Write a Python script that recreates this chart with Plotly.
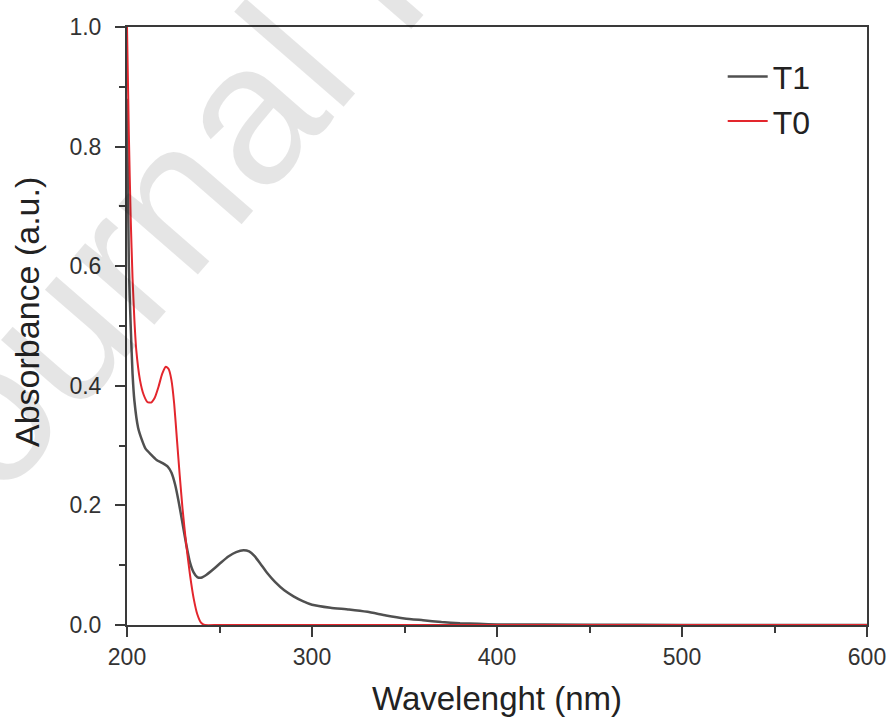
import plotly.graph_objects as go

# ---- data ----
t1_wl = [200, 201, 202, 203, 204, 206, 208, 210, 213, 216, 219, 222, 224, 226, 228, 230,
         232, 234, 236, 238, 240, 243, 247, 251, 255, 259, 263, 266, 269, 272, 276, 280,
         285, 290, 295, 300, 310, 320, 330, 340, 350, 360, 370, 380, 390, 400, 450, 500, 600]
t1_abs = [0.88, 0.60, 0.50, 0.42, 0.375, 0.33, 0.31, 0.295, 0.285, 0.276, 0.271, 0.265, 0.255,
          0.235, 0.205, 0.17, 0.135, 0.105, 0.088, 0.080, 0.079, 0.084, 0.094, 0.105, 0.115,
          0.122, 0.125, 0.123, 0.115, 0.103, 0.086, 0.072, 0.058, 0.048, 0.040, 0.034, 0.029,
          0.026, 0.022, 0.016, 0.011, 0.008, 0.005, 0.003, 0.002, 0.001, 0.0005, 0.0, 0.0]

t0_wl = [200, 201, 202, 203, 204, 205, 207, 209, 211, 213, 215, 217, 219, 221, 222.5, 224,
         225.5, 227, 228.5, 230, 232, 234, 236, 238, 240, 242, 250, 600]
t0_abs = [1.0, 0.82, 0.68, 0.58, 0.51, 0.46, 0.41, 0.385, 0.373, 0.372, 0.38, 0.398, 0.42,
          0.432, 0.428, 0.41, 0.37, 0.31, 0.25, 0.195, 0.135, 0.085, 0.045, 0.018, 0.004,
          0.0, 0.0, 0.0]

x_ticks = [200, 300, 400, 500, 600]
y_ticks = [0.0, 0.2, 0.4, 0.6, 0.8, 1.0]
y_ticklabels = ["0.0", "0.2", "0.4", "0.6", "0.8", "1.0"]

FONT = "Liberation Sans, Arial, sans-serif"
AXC = "#3a3a3a"

fig = go.Figure()
fig.add_trace(go.Scatter(x=t1_wl, y=t1_abs, mode="lines", name="T1",
                         line=dict(color="#505050", width=2.5, shape="spline", smoothing=0.5)))
fig.add_trace(go.Scatter(x=t0_wl, y=t0_abs, mode="lines", name="T0",
                         line=dict(color="#e3262d", width=2, shape="spline", smoothing=0.5)))

axis_common = dict(showline=True, linecolor=AXC, linewidth=2, mirror=True,
                   ticks="outside", ticklen=10, tickwidth=2, tickcolor=AXC,
                   showgrid=False, zeroline=False, automargin=False,
                   tickfont=dict(family=FONT, size=23, color="#333333"))

fig.update_xaxes(range=[200, 600], tickvals=x_ticks,
                 minor=dict(ticks="outside", ticklen=6, tickwidth=2, tickcolor=AXC, dtick=50),
                 title=dict(text="Wavelenght (nm)", font=dict(family=FONT, size=33, color="#222222"),
                            standoff=18),
                 **axis_common)
fig.update_yaxes(range=[0, 1.0], tickvals=y_ticks, ticktext=y_ticklabels,
                 ticklabelstandoff=9,
                 minor=dict(ticks="outside", ticklen=6, tickwidth=2, tickcolor=AXC, dtick=0.1),
                 **axis_common)

# y-axis title (placed slightly above plot centre as in the reference)
fig.add_annotation(text="Absorbance (a.u.)", xref="paper", yref="paper",
                   x=(27 - 127) / 740, y=(625 - 312) / 598, xanchor="center", yanchor="middle",
                   showarrow=False, textangle=-90,
                   font=dict(family=FONT, size=34, color="#222222"))

# watermark
fig.add_annotation(text="Journal Pre-proof", xref="paper", yref="paper",
                   x=0.353, y=1.130, xanchor="center", yanchor="middle",
                   showarrow=False, textangle=-49,
                   font=dict(family=FONT, size=200, color="rgba(0,0,0,0.10)"))

fig.update_layout(
    width=889, height=720,
    margin=dict(l=127, r=22, t=27, b=95),
    paper_bgcolor="white", plot_bgcolor="white",
    showlegend=True,
    legend=dict(x=0.805, y=0.963, xanchor="left", yanchor="top",
                bgcolor="rgba(0,0,0,0)", font=dict(family=FONT, size=32, color="#222222"),
                itemwidth=40),
)

fig.write_html("out.html")
